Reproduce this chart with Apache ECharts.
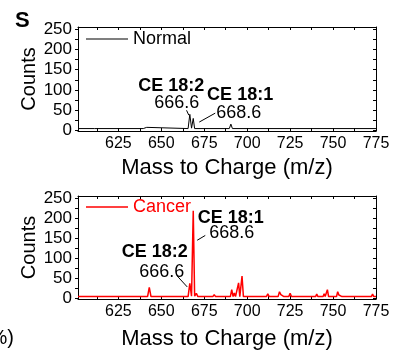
<!DOCTYPE html>
<html>
<head>
<meta charset="utf-8">
<script src="https://cdn.jsdelivr.net/npm/echarts@6/dist/echarts.min.js"></script>
<style>
  html, body { margin: 0; padding: 0; background: #fff; }
  #chart { width: 401px; height: 354px; }
</style>
</head>
<body>
<div id="chart"></div>
<script>
const FONT = "'Liberation Sans', Arial, sans-serif";

// spectra (m/z, counts)
const normalMz = [601.5, 611, 612, 613, 639.5, 640.5, 641.5, 642.5, 665.6, 666.6, 667.6, 668.6, 669.4, 689.6, 690.5, 691.4, 775];
const normalCounts = [5, 5, 9, 5, 5, 9, 8, 5, 5, 40, 6, 30, 5, 5, 16, 5, 5];

const cancerMz = [601.5, 642, 643, 644, 665.6, 666.6, 667.6, 668.6, 669.4, 670.4, 671.3, 680, 680.8, 681.6,
  690.2, 691, 691.8, 692.5, 693.2, 694.2, 695, 695.7, 696.2, 697, 697.8, 711.2, 712, 712.8,
  718, 718.8, 719.6, 720.5, 721.4, 724.2, 725, 725.8, 739.8, 740.5, 741.2,
  744.2, 744.8, 745.4, 746, 746.7, 747.4, 752, 752.7, 753.4, 754.5, 755.2, 772.3, 773, 773.7, 775];
const cancerCounts = [5, 5, 28, 5, 5, 38, 6, 218, 6, 13, 5, 5, 10, 5,
  5, 22, 5, 14, 5, 5, 39, 5, 5, 56, 5, 5, 12, 5,
  5, 17, 10, 12, 5, 5, 13, 5, 5, 11, 5,
  5, 12, 5, 5, 22, 5, 5, 17, 9, 10, 5, 5, 11, 5, 5];

const xLabels = [625, 650, 675, 700, 725, 750, 775];
const xTicks = [612.5, 625, 637.5, 650, 662.5, 675, 687.5, 700, 712.5, 725, 737.5, 750, 762.5, 775];
const yLabels = [0, 50, 100, 150, 200, 250];
const yTicks = [0, 25, 50, 75, 100, 125, 150, 175, 200, 225, 250];

// annotation text anchors [m/z, counts, text, bold]
const normalNotes = [[655.8, 109, 'CE 18:2', true], [659.0, 67, '666.6', false],
  [695.9, 87, 'CE 18:1', true], [695.1, 43, '668.6', false]];
const normalLeaders = [[[664.7, 50], [666.0, 38]], [[681.4, 43], [672.1, 21]]];
const cancerNotes = [[646.2, 115, 'CE 18:2', true], [650.3, 66, '666.6', false],
  [690.4, 201, 'CE 18:1', true], [691.0, 162, '668.6', false]];
const cancerLeaders = [[[659.3, 56], [665.1, 29]], [[675.6, 157], [670.9, 145]]];

const X_MIN = 601.5, X_MAX = 775, Y_MIN = -1, Y_MAX = 255;

function zip(a, b) { return a.map((v, i) => [v, b[i]]); }

function bottomX(gi, gap) {
  return {
    type: 'value', gridIndex: gi, min: X_MIN, max: X_MAX, position: 'bottom',
    name: 'Mass to Charge (m/z)', nameLocation: 'middle', nameGap: gap, nameMoveOverlap: false,
    nameTextStyle: { fontFamily: FONT, fontSize: 22, color: '#000' },
    axisLine: { show: true, onZero: false, lineStyle: { color: '#000', width: 1 } },
    axisTick: { show: true, inside: true, length: 3, customValues: xTicks, lineStyle: { color: '#000' } },
    axisLabel: { show: true, customValues: xLabels, margin: 5, fontFamily: FONT, fontSize: 16, color: '#000' },
    splitLine: { show: false }
  };
}
function topX(gi) {
  return {
    type: 'value', gridIndex: gi, min: X_MIN, max: X_MAX, position: 'top',
    axisLine: { show: true, onZero: false, lineStyle: { color: '#000', width: 1 } },
    axisTick: { show: true, inside: true, length: 3, customValues: xTicks, lineStyle: { color: '#000' } },
    axisLabel: { show: false },
    splitLine: { show: false }
  };
}
function leftY(gi) {
  return {
    type: 'value', gridIndex: gi, min: Y_MIN, max: Y_MAX, position: 'left',
    name: 'Counts', nameLocation: 'middle', nameGap: 39, nameRotate: 90, nameMoveOverlap: false,
    nameTextStyle: { fontFamily: FONT, fontSize: 20, color: '#000' },
    axisLine: { show: true, onZero: false, lineStyle: { color: '#000', width: 1 } },
    axisTick: { show: true, inside: false, length: 3, customValues: yTicks, lineStyle: { color: '#000' } },
    axisLabel: { show: true, customValues: yLabels, margin: 6, fontFamily: FONT, fontSize: 17, color: '#000' },
    splitLine: { show: false }
  };
}
function rightY(gi) {
  return {
    type: 'value', gridIndex: gi, min: Y_MIN, max: Y_MAX, position: 'right',
    axisLine: { show: true, onZero: false, lineStyle: { color: '#000', width: 1 } },
    axisTick: { show: true, inside: true, length: 3, customValues: yTicks, lineStyle: { color: '#000' } },
    axisLabel: { show: false },
    splitLine: { show: false }
  };
}

function notes(list) {
  return list.map(n => ({
    coord: [n[0], n[1]], value: n[2],
    label: { formatter: n[2], fontWeight: n[3] ? 'bold' : 'normal' }
  }));
}
function leaders(list) {
  return list.map(l => [{ coord: l[0] }, { coord: l[1] }]);
}

function spectrum(name, gi, mz, counts, color, width, noteList, leaderList) {
  return {
    name: name, type: 'line', xAxisIndex: gi * 2, yAxisIndex: gi * 2,
    data: zip(mz, counts), symbol: 'none', animation: false,
    lineStyle: { color: color, width: width }, itemStyle: { color: color },
    markPoint: {
      symbol: 'circle', symbolSize: 0, silent: true, animation: false,
      label: { show: true, position: 'inside', fontFamily: FONT, fontSize: 18, color: '#000' },
      data: notes(noteList)
    },
    markLine: {
      symbol: 'none', silent: true, animation: false,
      lineStyle: { color: '#000', width: 1, type: 'solid' },
      label: { show: false },
      data: leaders(leaderList)
    }
  };
}

const chart = echarts.init(document.getElementById('chart'), null, { renderer: 'canvas' });

chart.setOption({
  animation: false,
  backgroundColor: '#fff',
  grid: [
    { left: 78, right: 25, top: 27, height: 104 },
    { left: 78, right: 25, top: 196, height: 103 }
  ],
  legend: [
    {
      data: [{ name: 'Normal', icon: 'rect' }], left: 86, top: 30, padding: 0,
      itemWidth: 42, itemHeight: 1, selectedMode: false,
      textStyle: { fontFamily: FONT, fontSize: 18, color: '#000' }
    },
    {
      data: [{ name: 'Cancer', icon: 'rect' }], left: 86, top: 198, padding: 0,
      itemWidth: 42, itemHeight: 1.5, selectedMode: false,
      textStyle: { fontFamily: FONT, fontSize: 18, color: '#ff0000' }
    }
  ],
  xAxis: [bottomX(0, 26), topX(0), bottomX(1, 29), topX(1)],
  yAxis: [leftY(0), rightY(0), leftY(1), rightY(1)],
  graphic: [
    {
      type: 'text', left: 15, top: 10,
      style: { text: 'S', fontFamily: FONT, fontSize: 22, fontWeight: 'bold', fill: '#000' }
    },
    {
      type: 'text', x: 14, y: 338,
      style: { text: '(%)', fontFamily: FONT, fontSize: 20, fill: '#000', align: 'right', verticalAlign: 'middle' }
    }
  ],
  series: [
    spectrum('Normal', 0, normalMz, normalCounts, '#000000', 1, normalNotes, normalLeaders),
    spectrum('Cancer', 1, cancerMz, cancerCounts, '#ff0000', 1.5, cancerNotes, cancerLeaders)
  ]
});

window.addEventListener('resize', () => chart.resize());
</script>
</body>
</html>
